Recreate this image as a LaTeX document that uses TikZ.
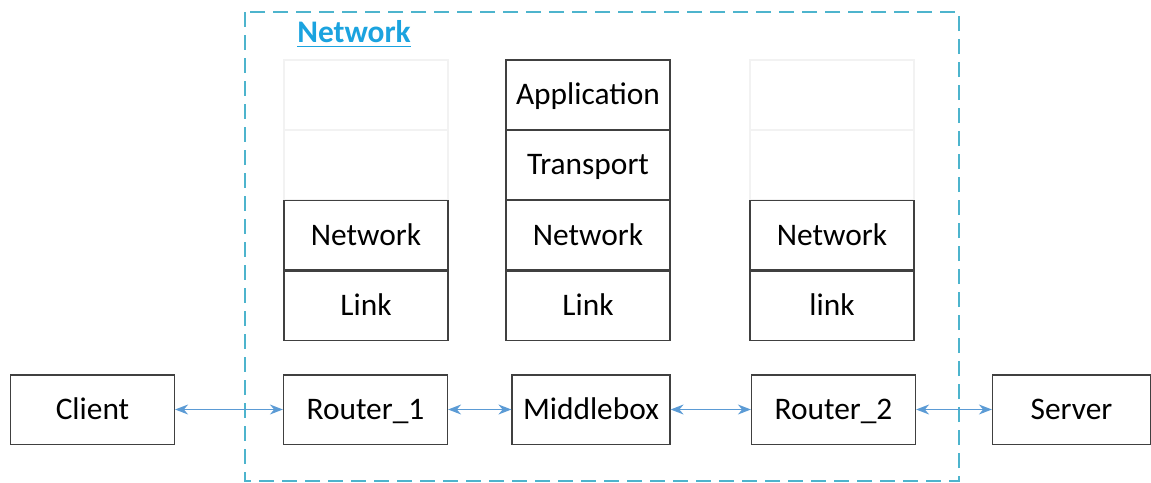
\documentclass[tikz,border=0pt]{standalone}
\usepackage{fontspec}
\setmainfont{Carlito}
\usetikzlibrary{positioning,arrows.meta}
\definecolor{netblue}{HTML}{1BA3DF}
\definecolor{dashcol}{HTML}{4DB4CD}
\definecolor{arrcol}{HTML}{5B9BD5}

\begin{document}
\begin{tikzpicture}[x=0.5pt,y=-0.5pt,
layer/.style={draw=black!75,line width=0.6pt,minimum width=82pt,minimum height=34.6pt,
  inner sep=0pt,text height=10pt,text depth=0pt,font=\fontsize{15.7}{18}\selectfont},
ghost/.style={layer,draw=black!5},
host/.style={layer,minimum width=79pt},
link/.style={draw=arrcol,line width=0.65pt,
  {Stealth[length=6.5pt,width=5pt]}-{Stealth[length=6.5pt,width=5pt]}},
node distance=0pt]
\useasboundingbox (0,0) rectangle (1151,482);

    % network area
    \draw[dashcol,line width=0.7pt,dash pattern=on 7.5pt off 4pt] (245,12) rectangle (959,481);
    \node (Title) [anchor=west,text=netblue,inner sep=0pt,
      font=\fontsize{15.7}{18}\selectfont\bfseries] at (297,34) {\underline{Network}};

    % stack of Router_1
    \node (R1-a) [ghost] at (366,94.5) {};
    \node (R1-b) [ghost,below=of R1-a] {};
    \node (R1-net) [layer,below=of R1-b] {Network};
    \node (R1-link) [layer,below=of R1-net] {Link};

    % stack of the middlebox
    \node (MB-app) [layer] at (588,94.5) {Application};
    \node (MB-trans) [layer,below=of MB-app] {Transport};
    \node (MB-net) [layer,below=of MB-trans] {Network};
    \node (MB-link) [layer,below=of MB-net] {Link};

    % stack of Router_2
    \node (R2-a) [ghost] at (832,94.5) {};
    \node (R2-b) [ghost,below=of R2-a] {};
    \node (R2-net) [layer,below=of R2-b] {Network};
    \node (R2-link) [layer,below=of R2-net] {link};

    % hosts and boxes on the path
    \node (Client) [layer] at (92.5,409.5) {Client};
    \node (Router1) [layer] at (365.5,409.5) {Router\_1};
    \node (Middlebox) [host] at (591,409.5) {Middlebox};
    \node (Router2) [layer] at (833.5,409.5) {Router\_2};
    \node (Server) [host] at (1071.5,409.5) {Server};

    \draw[link] (Client) -- (Router1);
    \draw[link] (Router1) -- (Middlebox);
    \draw[link] (Middlebox) -- (Router2);
    \draw[link] (Router2) -- (Server);

\end{tikzpicture}
\end{document}
